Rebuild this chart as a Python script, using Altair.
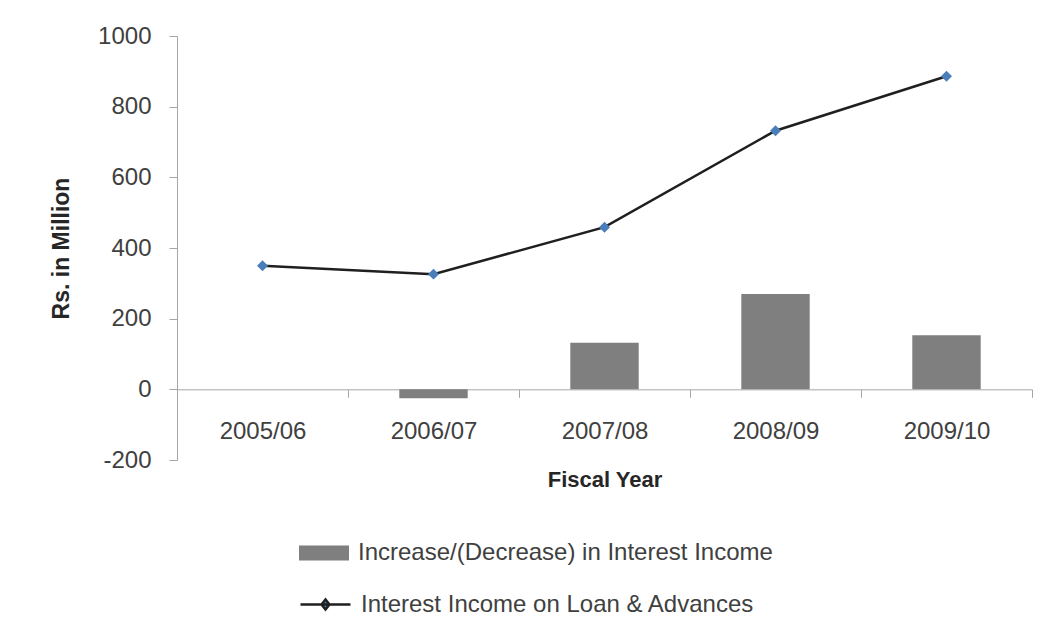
import altair as alt
import pandas as pd

years = ["2005/06", "2006/07", "2007/08", "2008/09", "2009/10"]
change_in_income = [None, -25, 132, 270, 153]
interest_income = [350, 326, 459, 732, 886]
bar_series = "Increase/(Decrease) in Interest Income"
line_series = "Interest Income on Loan & Advances"
y_ticks = [-200, 0, 200, 400, 600, 800, 1000]

df = pd.DataFrame({
    "Year": years,
    "Change": change_in_income,
    "Income": interest_income,
    "BarSeries": [bar_series] * len(years),
    "LineSeries": [line_series] * len(years),
})

W, H = 855, 424
FONT = "Liberation Sans"
LABEL = "#404040"
AXC = "#a6a6a6"

x_enc = alt.X(
    "Year:N", sort=years,
    scale=alt.Scale(paddingInner=0, paddingOuter=0),
    axis=alt.Axis(
        title="Fiscal Year", offset=-H * 200 / 1200, tickBand="extent",
        labelAngle=0, labelFont=FONT, labelFontSize=24, labelColor=LABEL,
        labelPadding=22, tickSize=8, tickColor=AXC, domainColor=AXC,
        titleFont=FONT, titleFontSize=22, titleFontWeight="bold", titleColor="#262626",
        titlePadding=26, grid=False,
    ),
)
y_scale = alt.Scale(domain=[-200, 1000], nice=False)
y_axis = alt.Axis(
    title="Rs. in Million", values=y_ticks, labelExpr="datum.value + ''",
    labelFont=FONT, labelFontSize=24,
    labelColor=LABEL, labelPadding=18, tickSize=8, tickColor=AXC, domainColor=AXC,
    titleFont=FONT, titleFontSize=23, titleFontWeight="bold", titleColor="#262626",
    titlePadding=24, grid=False,
)

bars = alt.Chart(df).mark_bar(width=alt.RelativeBandSize(0.4)).encode(
    x=x_enc,
    y=alt.Y("Change:Q", scale=y_scale, axis=y_axis),
    fill=alt.Fill(
        "BarSeries:N", scale=alt.Scale(range=["#7f7f7f"]),
        legend=alt.Legend(
            title=None, orient="none", legendX=122, legendY=492, padding=0,
            symbolType="M-1,-0.3H1V0.3H-1Z", symbolSize=2500, symbolStrokeWidth=0,
            symbolOpacity=1, labelFont=FONT, labelFontSize=24, labelColor=LABEL,
            labelOffset=9, labelLimit=700,
        ),
    ),
)

line = alt.Chart(df).mark_line(strokeWidth=2.5).encode(
    x=alt.X("Year:N", sort=years),
    y=alt.Y("Income:Q", scale=y_scale),
    stroke=alt.Stroke(
        "LineSeries:N", scale=alt.Scale(range=["#1f1f1f"]),
        legend=alt.Legend(
            title=None, orient="none", legendX=122, legendY=542, padding=0,
            symbolType="M-1,0H1M-0.16,0L0,-0.2L0.16,0L0,0.2Z", symbolSize=2500,
            symbolStrokeWidth=2.5, symbolFillColor="#4a7ebb",
            labelFont=FONT, labelFontSize=24, labelColor=LABEL,
            labelOffset=9, labelLimit=700,
        ),
    ),
)

points = alt.Chart(df).mark_point(
    shape="diamond", filled=True, size=120, color="#4a7ebb", opacity=1
).encode(
    x=alt.X("Year:N", sort=years),
    y=alt.Y("Income:Q", scale=y_scale),
)

chart = alt.layer(bars, line, points).resolve_scale(
    fill="independent", stroke="independent"
).properties(
    width=W, height=H,
    autosize=alt.AutoSizeParams(type="none"),
    padding={"left": 169, "top": 28, "right": 12, "bottom": 170},
).configure(background="white").configure_view(strokeWidth=0, stroke="transparent")

chart.save("out.html", embed_options={"renderer": "svg", "actions": False})
